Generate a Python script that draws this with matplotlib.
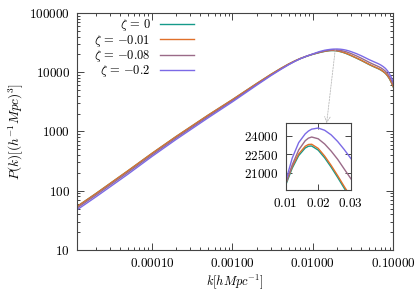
import matplotlib
matplotlib.use("Agg")
import matplotlib.pyplot as plt
from matplotlib.ticker import FixedLocator, FuncFormatter, LogLocator, NullFormatter
from matplotlib.patches import ConnectionPatch

plt.rcParams['mathtext.fontset'] = 'cm'
plt.rcParams['font.family'] = 'serif'
plt.rcParams['font.serif'] = ['DejaVu Serif']

# wavenumber k [h/Mpc]
k = [1.17e-5, 2e-5, 5e-5, 1e-4, 2e-4, 5e-4, 1e-3, 2e-3, 3e-3, 4e-3, 5e-3, 6e-3, 7e-3, 8.5e-3,
     0.010, 0.012, 0.014, 0.016, 0.017, 0.018, 0.020, 0.022, 0.024, 0.026, 0.028, 0.030,
     0.035, 0.040, 0.045, 0.050, 0.055, 0.060, 0.065, 0.070, 0.075, 0.080, 0.085, 0.090, 0.095, 0.100]

# P(k) for each zeta
p_z0 = [54, 89, 215, 425, 820, 1880, 3430, 6400, 9120, 11540, 13680, 15490, 16990, 18720,
        20040, 21400, 22410, 23020, 23160, 23180, 22850, 22230, 21480, 20660, 19800, 19000,
        17260, 15810, 14560, 13500, 12690, 12040, 11480, 10900, 10240, 9540, 8660, 7700, 6650, 5650]
p_z001 = [54, 89, 216, 427, 823, 1888, 3445, 6430, 9165, 11600, 13750, 15570, 17080, 18820,
          20150, 21520, 22540, 23160, 23300, 23320, 22990, 22370, 21620, 20800, 19940, 19130,
          17380, 15920, 14660, 13600, 12780, 12130, 11560, 10980, 10310, 9610, 8720, 7760, 6700, 5690]
p_z008 = [50.8, 83.7, 202, 400, 775, 1786, 3293, 6208, 8892, 11310, 13475, 15335, 16905, 18720,
          20140, 21660, 22860, 23600, 23810, 23900, 23760, 23340, 22770, 22110, 21340, 20580,
          18810, 17230, 15870, 14720, 13830, 13120, 12510, 11880, 11160, 10400, 9440, 8390, 7250, 6160]
p_z02 = [47.5, 78.3, 189, 378, 734, 1701, 3156, 6016, 8710, 11136, 13338, 15258, 16905, 18810,
         20350, 22200, 23450, 24150, 24380, 24530, 24620, 24440, 24070, 23540, 22900, 22200,
         20540, 18970, 17545, 16335, 15420, 14630, 13950, 13240, 12440, 11590, 10520, 9360, 8110, 6800]

series = [p_z0, p_z001, p_z008, p_z02]
labels = [r'$\zeta \,=\, 0$', r'$\zeta \,=\, {-0.01}$', r'$\zeta \,=\, {-0.08}$', r'$\zeta \,=\, {-0.2}$']
colors = ['#159a8a', '#e0702a', '#9a6a88', '#7b6ae6']

xticks = [1e-4, 1e-3, 1e-2, 1e-1]
yticks = [10, 100, 1000, 10000, 100000]
in_xticks = [0.01, 0.02, 0.03]
in_yticks = [21000, 22500, 24000]

fig = plt.figure(figsize=(4.15, 2.91), dpi=100)
ax = fig.add_axes([0.1855, 0.141, 0.762, 0.8145])

for p, lab, c in zip(series, labels, colors):
    ax.plot(k, p, color=c, lw=1.0, label=lab)

ax.set_xscale('log')
ax.set_yscale('log')
ax.set_xlim(1.17e-5, 0.1)
ax.set_ylim(10, 100000)
ax.xaxis.set_major_locator(FixedLocator(xticks))
ax.xaxis.set_major_formatter(FuncFormatter(lambda v, pos: r'$%.5f$' % v))
ax.yaxis.set_major_locator(FixedLocator(yticks))
ax.yaxis.set_major_formatter(FuncFormatter(lambda v, pos: r'$%d$' % v))
ax.xaxis.set_minor_locator(LogLocator(base=10, subs=range(2, 10)))
ax.yaxis.set_minor_locator(LogLocator(base=10, subs=range(2, 10)))
ax.xaxis.set_minor_formatter(NullFormatter())
ax.yaxis.set_minor_formatter(NullFormatter())
ax.tick_params(which='both', direction='in', top=True, right=True, colors='#444444',
               labelcolor='black', labelsize=9.5, width=0.7)
ax.tick_params(which='major', length=5, pad=5)
ax.tick_params(which='minor', length=2.5)
for s in ax.spines.values():
    s.set_color('#444444')
    s.set_linewidth(0.8)

ax.set_xlabel(r'$k[hMpc^{-1}]$', fontsize=9, labelpad=2)
ax.set_ylabel(r'$P(k)[(h^{-1}Mpc)^3]$', fontsize=9.5, labelpad=3)

ax.legend(loc='upper right', bbox_to_anchor=(0.387, 1.003), markerfirst=False, frameon=False,
          fontsize=9, handlelength=2.75, handletextpad=0.75, labelspacing=-0.05, borderaxespad=0)

# inset
axin = fig.add_axes([0.6884, 0.347, 0.1566, 0.2293])
for p, c in zip(series, colors):
    axin.plot(k, p, color=c, lw=1.0)
axin.set_xlim(0.01, 0.03)
axin.set_ylim(19650, 25000)
axin.xaxis.set_major_locator(FixedLocator(in_xticks))
axin.xaxis.set_major_formatter(FuncFormatter(lambda v, pos: r'$%.2f$' % v))
axin.yaxis.set_major_locator(FixedLocator(in_yticks))
axin.yaxis.set_major_formatter(FuncFormatter(lambda v, pos: r'$%d$' % v))
axin.tick_params(which='both', direction='in', top=True, right=True, colors='#444444',
                 labelcolor='black', labelsize=9.5, length=4, width=0.7, pad=5)
for s in axin.spines.values():
    s.set_color('#444444')
    s.set_linewidth(0.8)

con = ConnectionPatch(xyA=(0.019, 23800), coordsA=ax.transData,
                      xyB=(0.0226, 25000), coordsB=axin.transData,
                      arrowstyle='->', color='#bbbbbb', lw=0.6, linestyle=(0, (2, 1.5)))
fig.add_artist(con)

fig.savefig('out.png', dpi=100)
